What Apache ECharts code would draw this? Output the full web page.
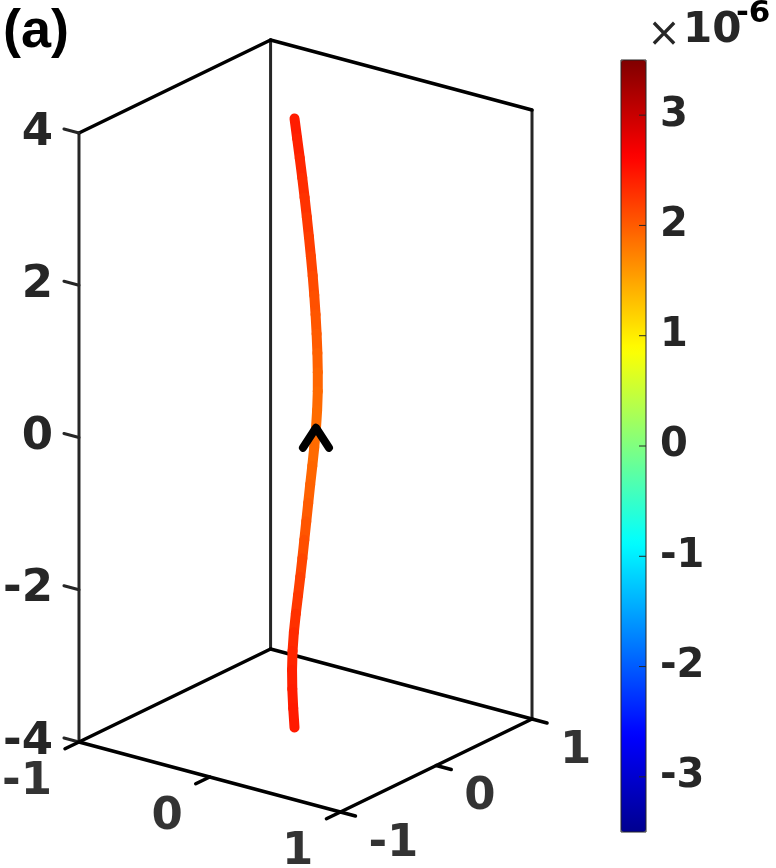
<!DOCTYPE html>
<html><head><meta charset="utf-8">
<script src="https://cdn.jsdelivr.net/npm/echarts@6/dist/echarts.min.js"></script>
<style>html,body{margin:0;padding:0;background:#fff}#chart{width:776px;height:868px}</style>
</head><body><div id="chart"></div>
<script>
// ---- data ----
const xLim = [-1, 1], yLim = [-1, 1], zLim = [-4, 4];
const xTicks = [-1, 0, 1], yTicks = [-1, 0, 1], zTicks = [-4, -2, 0, 2, 4];
const xTickLabels = ['-1', '0', '1'];
const yTickLabels = ['-1', '0', '1'];
const zTickLabels = ['-4', '-2', '0', '2', '4'];
const curveZ = [4, 3.75, 3.5, 3.25, 3, 2.75, 2.5, 2.25, 2, 1.75, 1.5, 1.25, 1, 0.75, 0.5, 0.25, 0,
  -0.25, -0.5, -0.75, -1, -1.25, -1.5, -1.75, -2, -2.25, -2.5, -2.75, -3, -3.25, -3.5, -3.75, -4];
const curveX = [-0.084, -0.064, -0.044, -0.025, -0.007, 0.010, 0.026, 0.041, 0.055, 0.067, 0.077, 0.085, 0.091, 0.094, 0.094, 0.089, 0.080,
  0.067, 0.052, 0.036, 0.021, 0.006, -0.009, -0.024, -0.040, -0.057, -0.074, -0.089, -0.099, -0.103, -0.101, -0.094, -0.084];
const curveYPlane = 0;
const curveC = [2.45, 2.42, 2.38, 2.34, 2.30, 2.26, 2.22, 2.18, 2.14, 2.10, 2.06, 2.02, 1.98, 1.94, 1.91, 1.89, 1.88,
  1.89, 1.91, 1.94, 1.98, 2.02, 2.07, 2.12, 2.17, 2.22, 2.27, 2.32, 2.36, 2.39, 2.42, 2.44, 2.45];
const arrowAt = { x: 0.080, y: 0, z: 0 };
const cbRange = [-3.5, 3.5];
const cbTicks = [-3, -2, -1, 0, 1, 2, 3];
const cbExponent = '-6';
const panelLabel = '(a)';

// ---- view / projection (oblique 3D view) ----
const view = { ex: [131, 35], ey: [96, -46.5], zPx: 76.125 };
function project(x, y, z) {
  const a = x - xLim[0], b = y - yLim[0];
  return [a * view.ex[0] + b * view.ey[0], z - (a * view.ex[1] + b * view.ey[1]) / view.zPx];
}
const jet = ['#00008F', '#0000FF', '#0080FF', '#00FFFF', '#80FF80', '#FFFF00', '#FF8000', '#FF0000', '#800000'];

// frame edges and ticks: [p0, p1, colorFlag]  (0 = z-colour gray, 1 = black)
const X0 = xLim[0], X1 = xLim[1], Y0 = yLim[0], Y1 = yLim[1], Z0 = zLim[0], Z1 = zLim[1];
const frame = [
  [[X0, Y0, Z0], [X0, Y0, Z1], 0],
  [[X0, Y1, Z0], [X0, Y1, Z1], 0],
  [[X1, Y1, Z0], [X1, Y1, Z1], 0],
  [[X0, Y0, Z0], [X1, Y0, Z0], 1],
  [[X1, Y0, Z0], [X1, Y1, Z0], 1],
  [[X1, Y1, Z0], [X0, Y1, Z0], 1],
  [[X0, Y1, Z0], [X0, Y0, Z0], 1],
  [[X0, Y0, Z1], [X0, Y1, Z1], 1],
  [[X0, Y1, Z1], [X1, Y1, Z1], 1]
];
zTicks.forEach(z => frame.push([[X0, Y0, z], [X0 - 0.115, Y0, z], 0]));
xTicks.forEach(x => frame.push([[x, Y0, Z0], [x, Y0 - 0.146, Z0], 1]));
yTicks.forEach(y => frame.push([[X1, y, Z0], [X1 + 0.115, y, Z0], 1]));
const frameData = frame.map(e => {
  const p = project(...e[0]), q = project(...e[1]);
  return [p[0], p[1], q[0], q[1], e[2]];
});

const curveData = [];
for (let i = 0; i < curveZ.length - 1; i++) {
  const p = project(curveX[i], curveYPlane, curveZ[i]);
  const q = project(curveX[i + 1], curveYPlane, curveZ[i + 1]);
  curveData.push([p[0], p[1], q[0], q[1], (curveC[i] + curveC[i + 1]) / 2]);
}
const arrowData = [project(arrowAt.x, arrowAt.y, arrowAt.z)];
const xLabelData = xTicks.map((x, i) => [...project(x, Y0, Z0), xTickLabels[i]]);
const yLabelData = yTicks.map((y, i) => [...project(X1, y, Z0), yTickLabels[i]]);
const cbTickData = cbTicks.map(t => [1, t]);

function segItem(params, api, stroke, w) {
  const p = api.coord([api.value(0), api.value(1)]);
  const q = api.coord([api.value(2), api.value(3)]);
  return { type: 'line', shape: { x1: p[0], y1: p[1], x2: q[0], y2: q[1] },
    style: { stroke: stroke, lineWidth: w, lineCap: 'round' } };
}
const lblFont = { fontFamily: 'DejaVu Sans', fontWeight: 'bold', fontSize: 45 };

const chart = echarts.init(document.getElementById('chart'));
chart.setOption({
  animation: false,
  grid: [
    { left: 78, top: 133, width: 460, height: 609, show: false },
    { left: 621, top: 60, width: 25, height: 772, show: true, borderColor: '#262626', borderWidth: 1, backgroundColor: 'rgba(0,0,0,0)', z: 6 }
  ],
  xAxis: [
    { gridIndex: 0, type: 'value', min: 0, max: 460, show: false },
    { gridIndex: 1, type: 'value', min: 0, max: 1, show: false }
  ],
  yAxis: [
    { gridIndex: 0, type: 'value', min: zLim[0], max: zLim[1], interval: 2,
      axisLine: { show: false }, axisTick: { show: false }, splitLine: { show: false },
      axisLabel: Object.assign({ margin: 26, color: '#262626', formatter: v => zTickLabels[zTicks.indexOf(v)] }, lblFont) },
    { gridIndex: 1, type: 'value', position: 'right', min: cbRange[0], max: cbRange[1], z: 7,
      axisLine: { show: false }, splitLine: { show: false }, axisTick: { show: false },
      axisLabel: { customValues: cbTicks, margin: 14, color: '#262626', fontFamily: 'DejaVu Sans', fontWeight: 'bold', fontSize: 40 } }
  ],
  visualMap: {
    type: 'continuous', min: cbRange[0], max: cbRange[1], seriesIndex: 1, dimension: 4,
    left: 621, top: 60, itemWidth: 25, itemHeight: 772, padding: 0,
    calculable: false, hoverLink: false, text: null, inRange: { color: jet }
  },
  graphic: [
    { type: 'text', x: 3, y: 32, style: { text: panelLabel, font: 'bold 54px "Liberation Sans"', fill: '#000', verticalAlign: 'middle' } },
    { type: 'text', x: 664, y: 36, style: { text: '\u00d7', font: '40px "DejaVu Sans"', fill: '#262626', align: 'center', verticalAlign: 'middle' } },
    { type: 'text', x: 683, y: 31, style: { text: '10', font: 'bold 42px "DejaVu Sans"', fill: '#262626', align: 'left', verticalAlign: 'middle' } },
    { type: 'text', x: 736, y: 14, style: { text: cbExponent, font: 'bold 31px "DejaVu Sans"', fill: '#000', align: 'left', verticalAlign: 'middle' } }
  ],
  series: [
    { type: 'custom', xAxisIndex: 0, yAxisIndex: 0, data: frameData, z: 2, silent: true,
      renderItem: (params, api) => segItem(params, api, api.value(4) ? '#000000' : '#262626', api.value(4) ? 3.5 : 3) },
    { type: 'custom', xAxisIndex: 0, yAxisIndex: 0, data: curveData, z: 3, silent: true,
      renderItem: (params, api) => segItem(params, api, api.visual('color'), 10) },
    { type: 'custom', xAxisIndex: 0, yAxisIndex: 0, data: arrowData, z: 4, silent: true,
      renderItem: (params, api) => {
        const p = api.coord([api.value(0), api.value(1)]);
        return { type: 'polyline', shape: { points: [[p[0] - 13, p[1] + 19], [p[0], p[1] - 1], [p[0] + 13, p[1] + 19]] },
          style: { stroke: '#000', fill: null, lineWidth: 8, lineCap: 'round', lineJoin: 'round' } };
      } },
    { type: 'scatter', xAxisIndex: 0, yAxisIndex: 0, data: xLabelData, symbolSize: 0, clip: false, silent: true,
      label: Object.assign({ show: true, position: 'left', distance: 27, offset: [0, 40], color: '#000', formatter: p => p.value[2] }, lblFont) },
    { type: 'scatter', xAxisIndex: 0, yAxisIndex: 0, data: yLabelData, symbolSize: 0, clip: false, silent: true,
      label: Object.assign({ show: true, position: 'right', distance: 28, offset: [0, 32], color: '#000', formatter: p => p.value[2] }, lblFont) },
    { type: 'custom', xAxisIndex: 1, yAxisIndex: 1, data: cbTickData, z: 10, silent: true,
      renderItem: (params, api) => {
        const p = api.coord([api.value(0), api.value(1)]);
        return { type: 'line', shape: { x1: p[0] - 7, y1: p[1], x2: p[0], y2: p[1] },
          style: { stroke: '#262626', lineWidth: 1 } };
      } }
  ]
});
</script>
</body></html>
